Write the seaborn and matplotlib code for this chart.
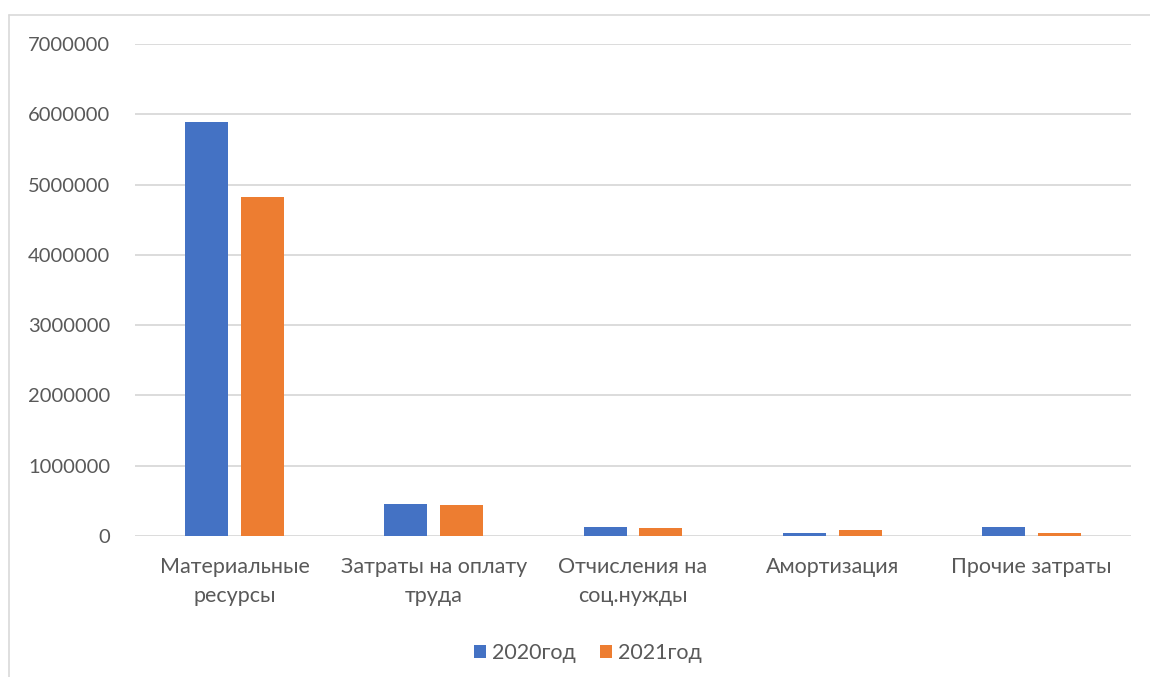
import matplotlib
matplotlib.use("Agg")
import matplotlib.pyplot as plt
from matplotlib.lines import Line2D
import seaborn as sns
import pandas as pd

categories = ["Материальные\nресурсы", "Затраты на оплату\nтруда", "Отчисления на\nсоц.нужды",
              "Амортизация", "Прочие затраты"]
series_names = ["2020год", "2021год"]
values_2020 = [5895000, 460000, 130000, 45000, 124000]
values_2021 = [4820000, 442000, 115000, 86000, 43000]
y_ticks = [0, 1000000, 2000000, 3000000, 4000000, 5000000, 6000000, 7000000]

df = pd.DataFrame({
    "cat": categories * 2,
    "year": [series_names[0]] * 5 + [series_names[1]] * 5,
    "val": values_2020 + values_2021,
})

sns.set_theme(style="white")
plt.rcParams["font.family"] = ["Lato", "Noto Sans", "DejaVu Sans"]
text_color = "#595959"

W, H = 1150, 677
fig = plt.figure(figsize=(W / 100, H / 100), dpi=100)
ax = fig.add_axes([135 / W, 1 - 536 / H, (1131 - 135) / W, (536 - 44) / H])

sns.barplot(data=df, x="cat", y="val", hue="year", order=categories,
            hue_order=series_names, palette=["#4472C4", "#ED7D31"],
            width=0.56, gap=0.23, linewidth=0, saturation=1, ax=ax, legend=True)

ax.set_ylim(0, 7000000)
ax.set_yticks(y_ticks)
ax.set_yticklabels([str(v) for v in y_ticks])
ax.set_xlabel("")
ax.set_ylabel("")
ax.grid(axis="y", color="#d9d9d9", linewidth=1.3)
ax.set_axisbelow(True)
for s in ax.spines.values():
    s.set_visible(False)
ax.tick_params(axis="y", length=0, pad=18, labelsize=14.5, labelcolor=text_color)
ax.tick_params(axis="x", length=0, pad=15, labelsize=15.5, labelcolor=text_color)
for lbl in ax.get_xticklabels():
    lbl.set_linespacing(1.6)

handles, labels = ax.get_legend_handles_labels()
ax.get_legend().remove()
fig.legend(handles, labels, loc="center", bbox_to_anchor=(588 / W, 1 - 653 / H),
           ncol=2, frameon=False, fontsize=15.5, labelcolor=text_color,
           handlelength=0.55, handleheight=0.55, handletextpad=0.3, columnspacing=1.1)

# chart frame lines
fig.add_artist(Line2D([9 / W, 9 / W], [1 - 15 / H, 0], color="#d9d9d9", linewidth=1.2))
fig.add_artist(Line2D([9 / W, 1], [1 - 15 / H, 1 - 15 / H], color="#d9d9d9", linewidth=1.2))

fig.savefig("out.png", dpi=100, facecolor="white")
